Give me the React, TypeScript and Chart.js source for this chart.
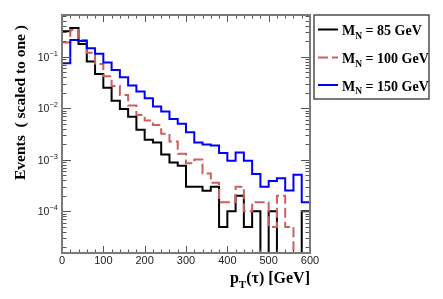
import React, { useEffect, useRef } from "react";
import { Chart, registerables } from "chart.js";

Chart.register(...registerables);

// Bin edges of the pT(tau) histogram [GeV]
const binEdges = [
  0, 20, 40, 60, 80, 100, 120, 140, 160, 180, 200, 220, 240, 260, 280, 300,
  320, 340, 360, 380, 400, 420, 440, 460, 480, 500, 520, 540, 560, 580, 600,
];

// Normalised event fractions per bin (30 bins)
const mN85 = [
  0.31, 0.36, 0.176, 0.08, 0.046, 0.025, 0.0139, 0.0096, 0.0068, 0.0038,
  0.00244, 0.00216, 0.00127, 0.00089, 0.00077, 0.0003, 0.0003, 0.00025, 0.0003, 0.00005,
  0.0001, 0.0002, 0.00005, 0.0001, 0, 0.0001, 0, 0, 0, 0.0001,
];
const mN100 = [
  0.187, 0.328, 0.21, 0.119, 0.072, 0.0416, 0.027, 0.0181, 0.0113, 0.0074,
  0.0058, 0.0047, 0.0032, 0.00226, 0.00131, 0.00086, 0.00101, 0.00054, 0.00036, 0.00015,
  0.00015, 0.0003, 0.0001, 0.00015, 0.00015, 0.00005, 0.0002, 0.00005, 0, 0,
];
const mN150 = [
  0.0743, 0.21, 0.201, 0.145, 0.113, 0.0766, 0.0552, 0.0398, 0.0275, 0.021,
  0.0156, 0.0108, 0.0086, 0.0062, 0.005, 0.0034, 0.00216, 0.00198, 0.00189, 0.00135,
  0.00096, 0.00139, 0.00096, 0.00053, 0.0003, 0.00039, 0.00044, 0.000255, 0.00051, 0.00015,
];

const seriesMasses = ["85", "100", "150"];
const seriesColors = ["#000000", "#cd5f5f", "#0000ff"];
const seriesDashes: number[][] = [[], [10, 4], []];

const xTickLabels = [0, 100, 200, 300, 400, 500, 600];
const yTickExponents = [-1, -2, -3, -4];

const X_MIN = 0;
const X_MAX = 600;
const Y_MIN = 1.56e-5;
const Y_MAX = 0.64;

const SERIF = "'Liberation Serif', 'Times New Roman', serif";
const SANS = "'Liberation Sans', Arial, sans-serif";

function toSteps(values: number[]) {
  return binEdges.map((edge, i) => {
    const v = values[Math.min(i, values.length - 1)];
    return { x: edge, y: v > 0 ? v : Y_MIN / 10 };
  });
}

const rootStyle = {
  id: "rootStyle",
  afterDraw(chart: any) {
    const { ctx, chartArea: a, scales } = chart;
    const xs = scales.x;
    const ys = scales.y;
    ctx.save();

    const seg = (x1: number, y1: number, x2: number, y2: number) => {
      ctx.beginPath();
      ctx.moveTo(x1, y1);
      ctx.lineTo(x2, y2);
      ctx.stroke();
    };

    // ticks on all four sides
    ctx.strokeStyle = "#555555";
    ctx.lineWidth = 1;
    for (let v = X_MIN; v <= X_MAX; v += 20) {
      const px = Math.round(xs.getPixelForValue(v)) + 0.5;
      const len = v % 100 === 0 ? 7 : 3.5;
      seg(px, a.bottom, px, a.bottom - len);
      seg(px, a.top, px, a.top + len);
    }
    for (let e = -5; e <= 0; e++) {
      for (let m = 1; m <= 9; m++) {
        const val = m * Math.pow(10, e);
        if (val < Y_MIN || val > Y_MAX) continue;
        const py = Math.round(ys.getPixelForValue(val)) + 0.5;
        const len = m === 1 ? 9 : 4.5;
        seg(a.left, py, a.left + len, py);
        seg(a.right, py, a.right - len, py);
      }
    }

    // frame
    ctx.strokeStyle = "#7a7a7a";
    ctx.lineWidth = 2;
    ctx.strokeRect(a.left, a.top, a.right - a.left, a.bottom - a.top);

    // x tick labels
    ctx.fillStyle = "#222222";
    ctx.font = `11px ${SANS}`;
    ctx.textAlign = "center";
    ctx.textBaseline = "alphabetic";
    xTickLabels.forEach((v) => {
      ctx.fillText(String(v), xs.getPixelForValue(v), a.bottom + 11);
    });

    // y tick labels 10^e
    yTickExponents.forEach((e) => {
      const py = ys.getPixelForValue(Math.pow(10, e));
      const expText = "\u2212" + String(-e);
      ctx.font = `7.5px ${SANS}`;
      const expW = ctx.measureText(expText).width;
      ctx.font = `10.5px ${SANS}`;
      const baseW = ctx.measureText("10").width;
      const right = a.left - 4;
      ctx.textAlign = "left";
      ctx.fillText("10", right - expW - baseW, py + 4);
      ctx.font = `7.5px ${SANS}`;
      ctx.fillText(expText, right - expW, py - 1);
    });

    // y title
    ctx.save();
    ctx.translate(24.5, a.top + 10);
    ctx.rotate(-Math.PI / 2);
    ctx.font = `bold 15.5px ${SERIF}`;
    ctx.fillStyle = "#000000";
    ctx.textAlign = "right";
    ctx.fillText("Events  ( scaled to one )", 0, 0);
    ctx.restore();

    // x title: p_T(τ) [GeV], right aligned at plot right edge
    ctx.fillStyle = "#000000";
    const big = `bold 16px ${SERIF}`;
    const small = `bold 11px ${SERIF}`;
    ctx.font = big;
    const wP = ctx.measureText("p").width;
    const wRest = ctx.measureText("(\u03c4) [GeV]").width;
    ctx.font = small;
    const wT = ctx.measureText("T").width;
    const base = 283;
    let xx = a.right - (wP + wT + wRest);
    ctx.textAlign = "left";
    ctx.font = big;
    ctx.fillText("p", xx, base);
    xx += wP;
    ctx.font = small;
    ctx.fillText("T", xx, base + 5);
    xx += wT;
    ctx.font = big;
    ctx.fillText("(\u03c4) [GeV]", xx, base);

    // legend box
    const lx = a.right + 4;
    const ly = a.top;
    const lw = 115;
    const lh = 84;
    ctx.fillStyle = "#ffffff";
    ctx.fillRect(lx, ly, lw, lh);
    ctx.strokeStyle = "#333333";
    ctx.lineWidth = 1.3;
    ctx.strokeRect(lx, ly, lw, lh);
    const rowY = [29.5, 57.5, 85];
    seriesMasses.forEach((m, i) => {
      const yRow = rowY[i];
      ctx.strokeStyle = seriesColors[i];
      ctx.lineWidth = 2;
      ctx.setLineDash(seriesDashes[i]);
      seg(lx + 4, yRow, lx + 24, yRow);
      ctx.setLineDash([]);
      ctx.fillStyle = "#000000";
      let tx = lx + 28;
      ctx.font = `bold 14px ${SERIF}`;
      ctx.fillText("M", tx, yRow + 5.5);
      tx += ctx.measureText("M").width;
      ctx.font = `bold 9.5px ${SERIF}`;
      ctx.fillText("N", tx, yRow + 9);
      tx += ctx.measureText("N").width;
      ctx.font = `bold 14px ${SERIF}`;
      ctx.fillText(` = ${m} GeV`, tx, yRow + 5.5);
    });

    ctx.restore();
  },
};

export default function App() {
  const canvasRef = useRef<HTMLCanvasElement | null>(null);

  useEffect(() => {
    const canvas = canvasRef.current;
    if (!canvas) return;
    const seriesValues = [mN85, mN100, mN150];
    const chart = new Chart(canvas, {
      type: "line",
      data: {
        datasets: seriesValues.map((vals, i) => ({
          label: `M_N = ${seriesMasses[i]} GeV`,
          data: toSteps(vals),
          borderColor: seriesColors[i],
          borderWidth: 2,
          borderDash: seriesDashes[i],
          pointRadius: 0,
          stepped: "before" as const,
          fill: false,
          clip: 0,
          order: 2 - i,
        })),
      },
      options: {
        responsive: false,
        animation: false,
        events: [],
        layout: { padding: { left: 62, top: 15, right: 133, bottom: 46 } },
        plugins: {
          legend: { display: false },
          tooltip: { enabled: false },
          title: { display: false },
        },
        scales: {
          x: {
            type: "linear",
            min: X_MIN,
            max: X_MAX,
            display: false,
          },
          y: {
            type: "logarithmic",
            min: Y_MIN,
            max: Y_MAX,
            bounds: "data",
            display: false,
          },
        },
      },
      plugins: [rootStyle],
    } as any);
    return () => chart.destroy();
  }, []);

  return (
    <div style={{ position: "fixed", left: 0, top: 0, width: 443, height: 299, background: "#fff" }}>
      <canvas ref={canvasRef} width={443} height={299} style={{ display: "block" }} />
    </div>
  );
}
